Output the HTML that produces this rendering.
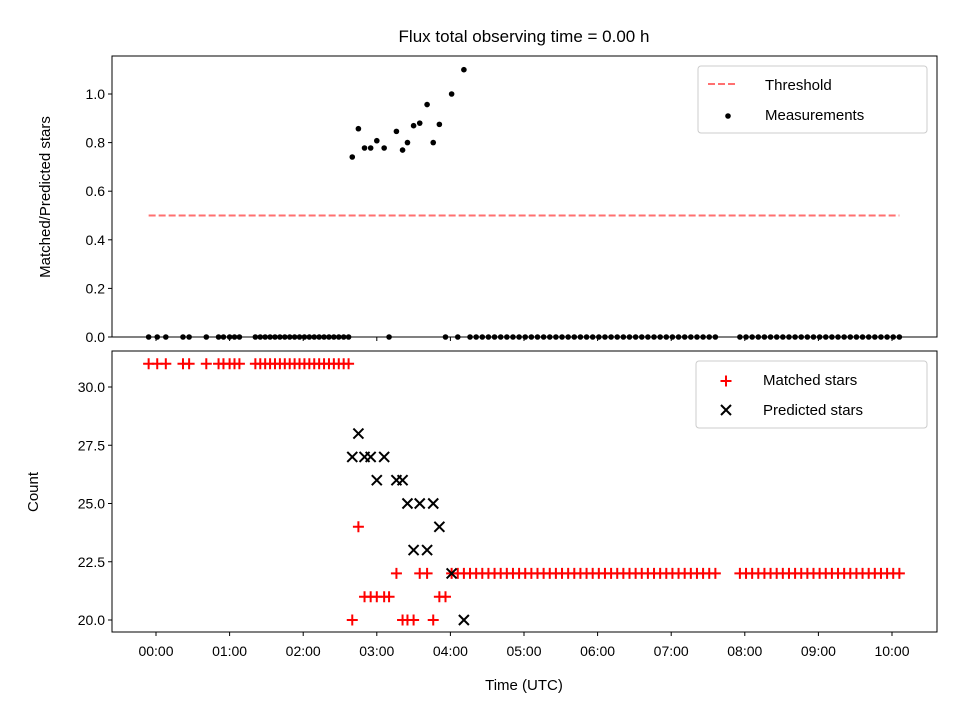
<!DOCTYPE html>
<html><head><meta charset="utf-8"><style>
body{margin:0;background:#fff}
svg{display:block;font-family:"Liberation Sans","DejaVu Sans",sans-serif}
</style></head><body>
<svg id="c" width="960" height="720" viewBox="0 0 960 720"></svg>
<script>
const earlyTimes=[-6,1,8,22,27,41,51,55,60,64,68,81,85,89,93,97,101,105,109,113,117,121,125,129,133,137,141,145,149,153,157];
const earlyMatched=31;
const midTimes=[160,165,170,175,180,186,190,196,201,205,210,215,221,226,231,236,241,246,251];
const midMatched=[20,24,21,21,21,21,21,22,20,20,20,22,22,20,21,21,22,22,22];
const midPredicted=[27,28,27,27,26,27,null,26,26,25,23,25,23,25,24,null,22,null,20];
const lateTimes=[256,261,266,271,276,281,286,291,296,301,306,311,316,321,326,331,336,341,346,351,356,361,366,371,376,381,386,391,396,401,406,411,416,421,426,431,436,441,446,451,456,476,481,486,491,496,501,506,511,516,521,526,531,536,541,546,551,556,561,566,571,576,581,586,591,596,601,606];
const lateMatched=22;
const threshold=0.5;
const topTicks=[0,0.2,0.4,0.6,0.8,1.0];
const botTicks=[20,22.5,25,27.5,30];
const xTickHours=[0,1,2,3,4,5,6,7,8,9,10];

const NS="http://www.w3.org/2000/svg";
const svg=document.getElementById('c');
function el(t,a,p){const e=document.createElementNS(NS,t);for(const k in a)e.setAttribute(k,a[k]);(p||svg).appendChild(e);return e;}
const L=112,R=937;
const xs=m=>156+(m/60)*73.6;
const yTop=v=>337-v*243;
const yBot=v=>620-(v-20)*23.3;

const times=[],matched=[],predicted=[];
earlyTimes.forEach(t=>{times.push(t);matched.push(earlyMatched);predicted.push(null);});
midTimes.forEach((t,i)=>{times.push(t);matched.push(midMatched[i]);predicted.push(midPredicted[i]);});
lateTimes.forEach(t=>{times.push(t);matched.push(lateMatched);predicted.push(null);});
const ratio=times.map((t,i)=>predicted[i]?matched[i]/predicted[i]:0);

let t=el('text',{x:524,y:42,'text-anchor':'middle','font-size':'17'});t.textContent='Flux total observing time = 0.00 h';



const gT=el('g',{});


const thr=el('line',{x1:xs(Math.min(...times)),x2:xs(Math.max(...times)),y1:yTop(threshold),y2:yTop(threshold),stroke:'#ff7070','stroke-width':2,'stroke-dasharray':'7,3'},gT);


times.forEach((m,i)=>{const d=el('circle',{cx:xs(m),cy:yTop(ratio[i]),r:2.8,fill:'#000'},gT);

});
el('rect',{x:L,y:56,width:R-L,height:281,fill:'none',stroke:'#000','stroke-width':1},gT);
topTicks.forEach(v=>{const y=yTop(v);el('line',{x1:L-4,x2:L,y1:y,y2:y,stroke:'#000'},gT);
const tx=el('text',{x:L-7,y:y+5,'text-anchor':'end','font-size':'14'},gT);tx.textContent=v.toFixed(1);

});
xTickHours.forEach(h=>{const x=xs(h*60);el('line',{x1:x,x2:x,y1:337,y2:341,stroke:'#000'},gT);});
let yl=el('text',{transform:'translate(50,197) rotate(-90)','text-anchor':'middle','font-size':'15'},gT);yl.textContent='Matched/Predicted stars';


const lg1=el('g',{},gT);


el('rect',{x:698,y:66,width:229,height:67,rx:3,fill:'#fff',stroke:'#ccc'},lg1);
el('line',{x1:708,x2:736,y1:84,y2:84,stroke:'#ff7070','stroke-width':2,'stroke-dasharray':'7,3'},lg1);
let l1=el('text',{x:765,y:90,'font-size':'15'},lg1);l1.textContent='Threshold';
el('circle',{cx:728,cy:116,r:2.8,fill:'#000'},lg1);
let l2=el('text',{x:765,y:120,'font-size':'15'},lg1);l2.textContent='Measurements';

const gB=el('g',{});


function plus(x,y,g){el('path',{d:`M${x-5.5},${y}H${x+5.5}M${x},${y-5.5}V${y+5.5}`,stroke:'#f00','stroke-width':2},g);}
function cross(x,y,g){el('path',{d:`M${x-5},${y-5}L${x+5},${y+5}M${x-5},${y+5}L${x+5},${y-5}`,stroke:'#000','stroke-width':2},g);}
const mG=el('g',{},gB);


times.forEach((m,i)=>plus(xs(m),yBot(matched[i]),mG));
const pG=el('g',{},gB);


times.forEach((m,i)=>{if(predicted[i]!==null)cross(xs(m),yBot(predicted[i]),pG);});
el('rect',{x:L,y:351,width:R-L,height:281,fill:'none',stroke:'#000','stroke-width':1},gB);
botTicks.forEach(v=>{const y=yBot(v);el('line',{x1:L-4,x2:L,y1:y,y2:y,stroke:'#000'},gB);
const tx=el('text',{x:L-7,y:y+5,'text-anchor':'end','font-size':'14'},gB);tx.textContent=v.toFixed(1);

});
xTickHours.forEach(h=>{const x=xs(h*60);el('line',{x1:x,x2:x,y1:632,y2:636,stroke:'#000'},gB);
const tx=el('text',{x:x,y:656,'text-anchor':'middle','font-size':'14'},gB);tx.textContent=String(h).padStart(2,'0')+':00';

});
let xl=el('text',{x:524,y:690,'text-anchor':'middle','font-size':'15'},gB);xl.textContent='Time (UTC)';


let yl2=el('text',{transform:'translate(38,492) rotate(-90)','text-anchor':'middle','font-size':'15'},gB);yl2.textContent='Count';


const lg2=el('g',{},gB);


el('rect',{x:696,y:361,width:231,height:67,rx:3,fill:'#fff',stroke:'#ccc'},lg2);
plus(726,381,lg2);
let l3=el('text',{x:763,y:385,'font-size':'15'},lg2);l3.textContent='Matched stars';
cross(726,410,lg2);
let l4=el('text',{x:763,y:415,'font-size':'15'},lg2);l4.textContent='Predicted stars';
</script>
</body></html>
